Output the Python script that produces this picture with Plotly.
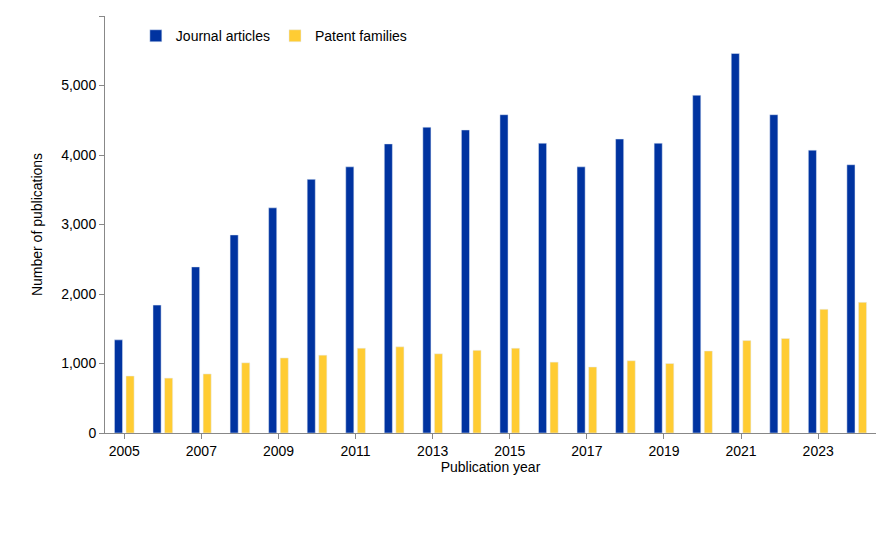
import plotly.graph_objects as go

years = list(range(2005, 2025))
journal_articles = [1340, 1840, 2390, 2850, 3240, 3650, 3830, 4160, 4400, 4360,
                    4580, 4170, 3830, 4230, 4170, 4860, 5460, 4580, 4070, 3860]
patent_families = [820, 790, 850, 1010, 1080, 1120, 1220, 1240, 1140, 1190,
                   1220, 1020, 950, 1040, 1000, 1180, 1330, 1360, 1780, 1880]
tick_years = list(range(2005, 2025, 2))

fig = go.Figure()
fig.add_trace(go.Bar(x=years, y=journal_articles, name='Journal articles', marker_color='#0033A0'))
fig.add_trace(go.Bar(x=years, y=patent_families, name='Patent families', marker_color='#FFCC33'))

fig.update_layout(
    width=886, height=537, barmode='group', bargap=0.4, bargroupgap=0.3,
    plot_bgcolor='white', paper_bgcolor='white',
    font=dict(family='Liberation Sans, Arial', size=14, color='black'),
    margin=dict(l=97, r=18, t=8, b=112),
    legend=dict(orientation='h', x=0.04, y=0.99, xanchor='left', yanchor='top',
                bgcolor='rgba(0,0,0,0)', font=dict(size=14)),
)
fig.update_xaxes(title_text='Publication year', title_font_size=14, tickvals=tick_years,
                 range=[2004.5, 2024.5],
                 showline=True, linecolor='#888', ticks='outside', ticklen=5, tickcolor='#888',
                 title_standoff=2)
fig.update_yaxes(title_text='Number of publications', title_font_size=14, range=[0, 6000], dtick=1000,
                 tickformat=',', showgrid=False, showline=True, linecolor='#888',
                 ticks='outside', ticklen=5, tickcolor='#888', zeroline=False)

fig.write_html("out.html")
